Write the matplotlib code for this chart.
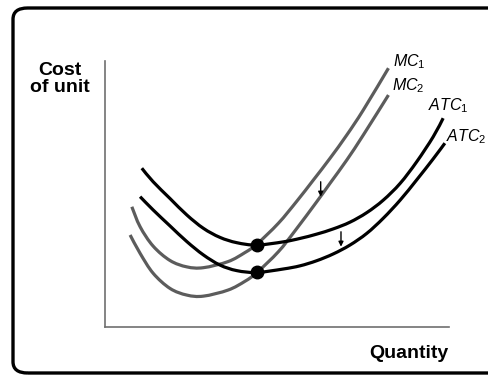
import numpy as np
import matplotlib
matplotlib.use("Agg")
import matplotlib.pyplot as plt
from matplotlib.patches import FancyBboxPatch, PathPatch
from matplotlib.path import Path

# curve points (quantity 0-100, cost 0-100)
atc1_x = [10.7, 14.0, 18.9, 23.8, 28.6, 33.4, 38.3, 44.1, 51.8, 56.7, 61.5, 66.4, 71.2, 76.1, 80.9, 85.8, 90.6, 95.4, 98.3]
atc1_y = [59.7, 54.6, 48.3, 42.1, 37.1, 33.7, 31.7, 30.8, 32.0, 33.3, 34.9, 36.9, 39.4, 43.0, 47.7, 54.0, 62.1, 71.5, 78.5]

atc2_x = [10.2, 14.0, 18.9, 23.8, 28.6, 33.4, 38.3, 44.1, 51.8, 56.7, 61.5, 66.4, 71.2, 76.1, 80.9, 85.8, 90.6, 95.4, 98.8]
atc2_y = [49.0, 44.0, 38.0, 32.1, 27.1, 23.3, 21.2, 20.5, 21.8, 23.0, 24.9, 27.5, 30.8, 35.2, 40.9, 47.7, 55.3, 63.2, 69.1]

mc1_x = [7.8, 10.2, 14.0, 18.9, 23.8, 28.6, 35.8, 40.7, 44.1, 50.4, 55.7, 60.6, 65.4, 70.3, 75.1, 82.4]
mc1_y = [45.2, 37.7, 30.4, 25.0, 22.6, 22.3, 24.6, 28.0, 31.1, 39.0, 47.2, 55.3, 63.4, 72.2, 81.6, 97.3]

mc2_x = [7.3, 10.2, 14.0, 18.9, 23.8, 28.6, 35.8, 40.7, 44.1, 50.4, 55.2, 61.5, 65.4, 70.3, 75.1, 82.4]
mc2_y = [34.6, 27.7, 20.2, 14.5, 12.0, 11.6, 13.9, 17.2, 20.4, 28.3, 36.1, 47.0, 54.0, 62.8, 72.2, 87.2]

# downward shift arrows: (x, y_from, y_to)
shift_arrows = [(62.7, 54.6, 49.0), (68.6, 35.8, 30.2)]

labels = [r"$MC_{\mathrm{1}}$", r"$MC_{\mathrm{2}}$", r"$ATC_{\mathrm{1}}$", r"$ATC_{\mathrm{2}}$"]
label_pos = [(83.7, 98.0), (83.5, 89.0), (94.0, 81.5), (99.0, 69.8)]


def smooth(xs, ys):
    # bezier segments through the read points (catmull-rom tangents)
    p = np.column_stack([xs, ys])
    verts = [p[0]]
    codes = [Path.MOVETO]
    n = len(p)
    for i in range(n - 1):
        p0 = p[i - 1] if i > 0 else p[i]
        p3 = p[i + 2] if i + 2 < n else p[i + 1]
        verts += [p[i] + (p[i + 1] - p0) / 6, p[i + 1] - (p3 - p[i]) / 6, p[i + 1]]
        codes += [Path.CURVE4] * 3
    return Path(verts, codes)


plt.rcParams["font.family"] = "Liberation Sans"
plt.rcParams["mathtext.fontset"] = "custom"
plt.rcParams["mathtext.it"] = "Liberation Sans:italic"
plt.rcParams["mathtext.rm"] = "Liberation Sans"

fig = plt.figure(figsize=(4.88, 3.76), dpi=100)

# rounded frame around the whole graphic (right edge runs off the picture)
frame = FancyBboxPatch((13 / 488, 3 / 376), 500 / 488, 365 / 376,
                       boxstyle="round,pad=0,rounding_size=0.03",
                       transform=fig.transFigure, fill=False,
                       edgecolor="black", linewidth=2.4)
fig.patches.append(frame)

ax = fig.add_axes([105 / 488, 49 / 376, 344 / 488, 266 / 376])
ax.set_xlim(0, 100)
ax.set_ylim(0, 100)
for s in ["top", "right"]:
    ax.spines[s].set_visible(False)
for s in ["left", "bottom"]:
    ax.spines[s].set_color("#707070")
    ax.spines[s].set_linewidth(1.2)
ax.set_xticks([])
ax.set_yticks([])

gray = "#5c5c5c"
for xs, ys, c in [(mc1_x, mc1_y, gray), (mc2_x, mc2_y, gray),
                  (atc1_x, atc1_y, "black"), (atc2_x, atc2_y, "black")]:
    ax.add_patch(PathPatch(smooth(xs, ys), fill=False, edgecolor=c, lw=2.3,
                           capstyle="butt", clip_on=False))

# minimum of each ATC where MC crosses it
for xs, ys in [(atc1_x, atc1_y), (atc2_x, atc2_y)]:
    i = int(np.argmin(ys))
    ax.plot(xs[i], ys[i], "o", color="black", ms=9, zorder=5, clip_on=False)

for x, y0, y1 in shift_arrows:
    ax.annotate("", xy=(x, y1), xytext=(x, y0),
                arrowprops=dict(arrowstyle="-|>", color="black", lw=1.0,
                                mutation_scale=7, shrinkA=0, shrinkB=0))

for txt, (x, y) in zip(labels, label_pos):
    ax.text(x, y, txt, fontsize=11.5, va="baseline", ha="left")

fig.text(60 / 488, 1 - 79 / 376, "Cost\nof unit", ha="center", va="center",
         fontsize=14, fontweight="bold", linespacing=1.05)
ax.text(100, -11.5, "Quantity", ha="right", va="baseline",
        fontsize=14, fontweight="bold")

fig.savefig("out.png", dpi=100)
